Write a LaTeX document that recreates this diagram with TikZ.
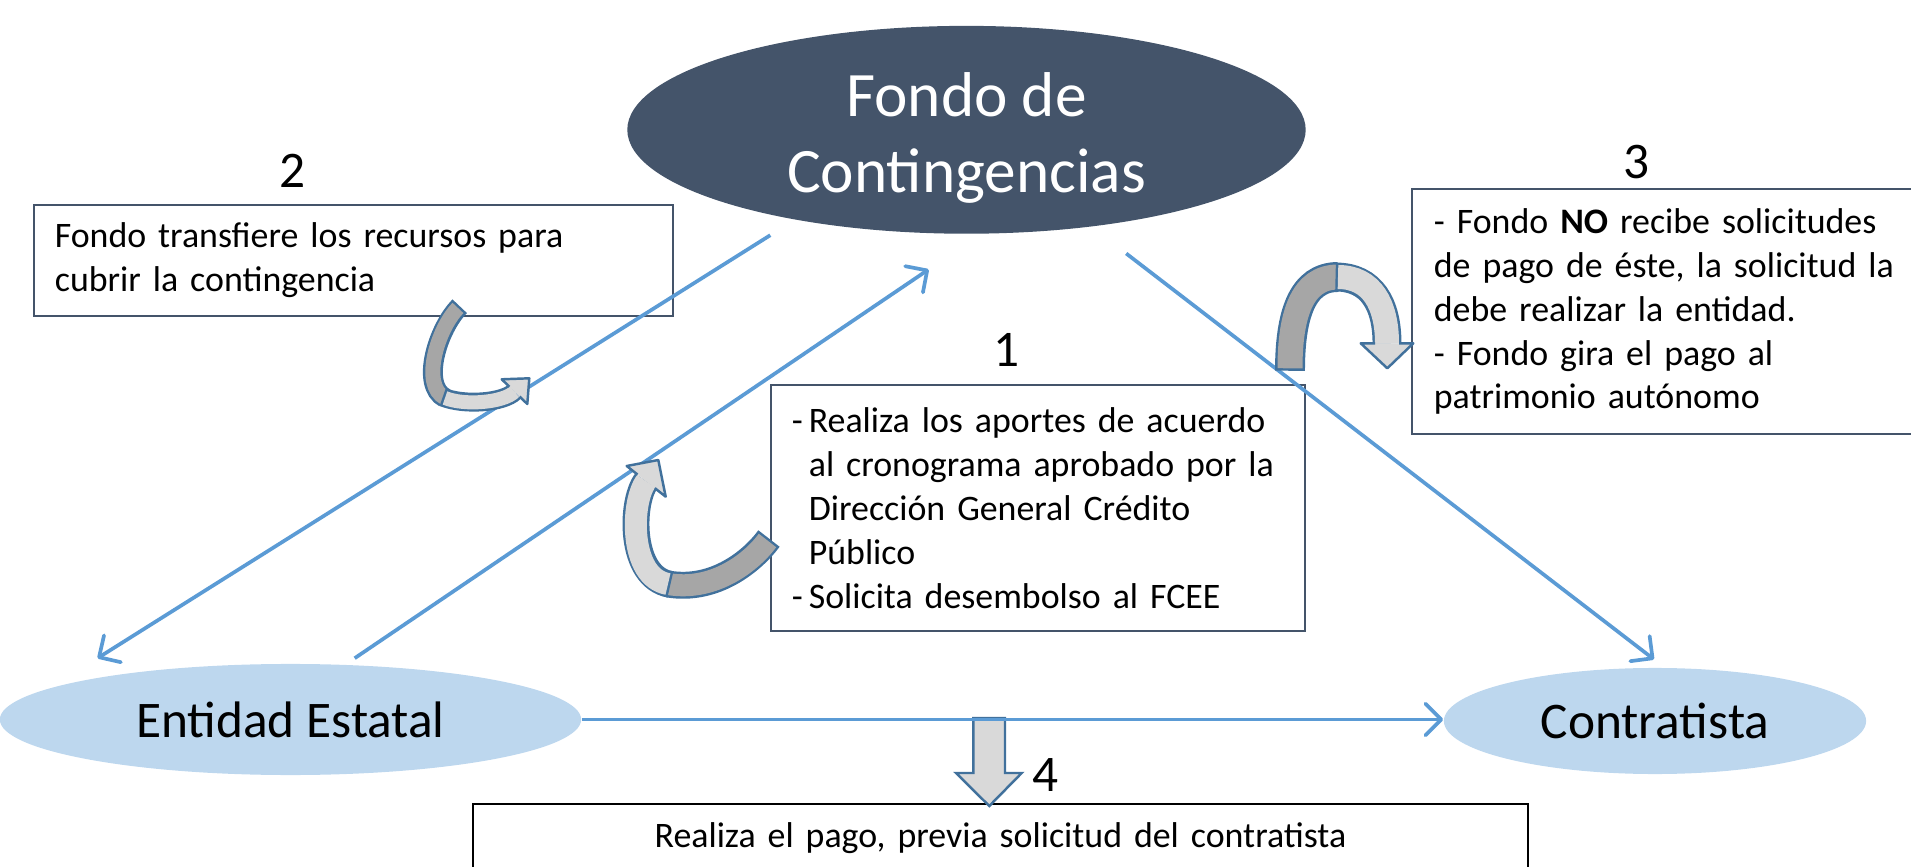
\documentclass[tikz,border=0pt]{standalone}
\usepackage{fontspec}
\setmainfont{Carlito}
\usetikzlibrary{calc,positioning,shapes.geometric,arrows.meta}
\definecolor{fondoblue}{HTML}{44546A}
\definecolor{lightblue}{HTML}{BDD7EE}
\definecolor{lineblue}{HTML}{5B9BD5}
\definecolor{arrowline}{HTML}{41719C}
\definecolor{darkband}{HTML}{A6A6A6}
\definecolor{lightband}{HTML}{D9D9D9}
\tikzstyle{txtbox}=[draw=fondoblue,line width=0.5pt,inner sep=0,align=left,%
  font=\fontsize{10.2}{12.5}\selectfont]
\tikzstyle{num}=[inner sep=0,font=\fontsize{14.6}{17}\selectfont]
% head of a curved block arrow: wing, tip, wing, half shaft width
\newcommand{\bandhead}[4]{%
  \coordinate (hb) at ($(#1)!0.5!(#3)$);
  \fill[lightband] (#1) -- (#2) -- (#3) -- cycle;
  \draw[arrowline,line width=0.7pt,line join=round]
    ($(hb)!#4!(#1)$) -- (#1) -- (#2) -- (#3) -- ($(hb)!#4!(#3)$);
}

\begin{document}
\begin{tikzpicture}[x=0.01cm,y=-0.01cm,
    ent/.style={ellipse,fill=lightblue,inner sep=0,font=\fontsize{14.6}{17}\selectfont},
    flow/.style={draw=lineblue,line width=1.05pt,-{Straight Barb[length=4.5pt,width=9pt,round]}},
    darkpart/.style={draw=darkband,line width=#1,
      preaction={draw=arrowline,line width=#1+1.4pt,shorten <=-0.7pt}},
    lightpart/.style={draw=lightband,line width=#1,
      preaction={draw=arrowline,line width=#1+1.4pt,shorten <=-0.7pt}}
    ]
    \clip (0,0) rectangle (1911,867);

    % actors
    \node[ellipse,fill=fondoblue,inner sep=0,minimum width=6.78cm,minimum height=1.72cm,
      text=white,align=center,font=\fontsize{18}{21.7}\selectfont] (fondo)
      at (966.5,129.8) {\rule{0pt}{17pt}Fondo de\\Contingencias};
    \node[ent,minimum width=5.81cm,minimum height=1.11cm] (entidad) at (290.5,719.5) {Entidad Estatal};
    \node[ent,minimum width=4.22cm,minimum height=1.06cm] (contratista) at (1655,721) {Contratista};

    % step boxes
    \node[txtbox,text width=5.97cm,inner xsep=0.21cm,minimum height=1.11cm] (caja2)
      at (353.5,260.5) {Fondo transfiere los recursos para\\cubrir la contingencia};
    \node[txtbox,text width=4.92cm,inner xsep=0.21cm,minimum height=2.46cm] (caja1)
      at (1038,508) {-\,Realiza los aportes de acuerdo\\
      \hphantom{-\,}al cronograma aprobado por la\\
      \hphantom{-\,}Dirección General Crédito\\
      \hphantom{-\,}Público\\
      -\,Solicita desembolso al FCEE};
    \node[txtbox,text width=4.80cm,inner xsep=0.215cm,minimum height=2.45cm] (caja3)
      at (1674,311.5) {- Fondo \textbf{NO} recibe solicitudes\\de pago de éste, la solicitud la\\
      debe realizar la entidad.\\- Fondo gira el pago al\\patrimonio autónomo};
    \node[txtbox,draw=black,align=center,text width=10.55cm,inner xsep=0,minimum height=0.69cm]
      (caja4) at (1000.5,838.5) {Realiza el pago, previa solicitud del contratista};

    % step numbers
    \node[num] (n1) at (1006.7,349.8) {1};
    \node[num] (n2) at (292.5,170.6) {2};
    \node[num] (n3) at (1636.8,162) {3};
    \node[num] (n4) at (1045.8,775) {4};

    % block arrow to box 4
    \draw[arrowline,fill=lightband,line width=0.7pt]
      (973.3,718) -- (1005,718) -- (1005,773) -- (1021.7,773) -- (989.3,806)
      -- (956,773) -- (973.3,773) -- cycle;

    % flows
    \coordinate (f-sal) at (770.3,235.2);
    \coordinate (e-lleg) at (97.5,658.2);
    \coordinate (e-sal) at (354.7,658.2);
    \coordinate (f-lleg) at (928.7,269.4);
    \coordinate (f-sal2) at (1126.2,253.5);
    \coordinate (c-lleg) at (1654,659.4);
    \draw[flow] (f-sal) -- (e-lleg);
    \draw[flow] (e-sal) -- (f-lleg);
    \draw[flow] (f-sal2) -- (c-lleg);
    \draw[flow] (entidad.east) -- (entidad.east -| contratista.west);

    % curved arrow near box 2
    \draw[darkpart=0.15cm] (458,308) .. controls (438,328) and (420,385) .. (445,398);
    \draw[lightpart=0.14cm] (445,398) .. controls (465,406) and (504,402.5) .. (514.5,391.7);
    \bandhead{501.7,379.3}{529.3,378.3}{527.3,404}{0.07cm}

    % curved arrow near box 1
    \draw[darkpart=0.22cm] (767.5,540.5) .. controls (752.7,560.7) and (715,592) .. (668,584);
    \draw[lightpart=0.22cm] (668,584) .. controls (628.6,577.3) and (630.7,501.1) .. (646.2,481.3);
    \bandhead{626.7,466}{658.3,460}{665.7,496.7}{0.11cm}

    % curved arrow near box 3
    \draw[darkpart=0.25cm] (1290,368.3) .. controls (1290,315) and (1302,277) .. (1338,277);
    \draw[lightpart=0.24cm] (1338,277) .. controls (1372,277) and (1387,305) .. (1387,343.3);
    \bandhead{1360.7,343.3}{1387.3,368.3}{1413.3,343.3}{0.12cm}

  \end{tikzpicture}
\end{document}
